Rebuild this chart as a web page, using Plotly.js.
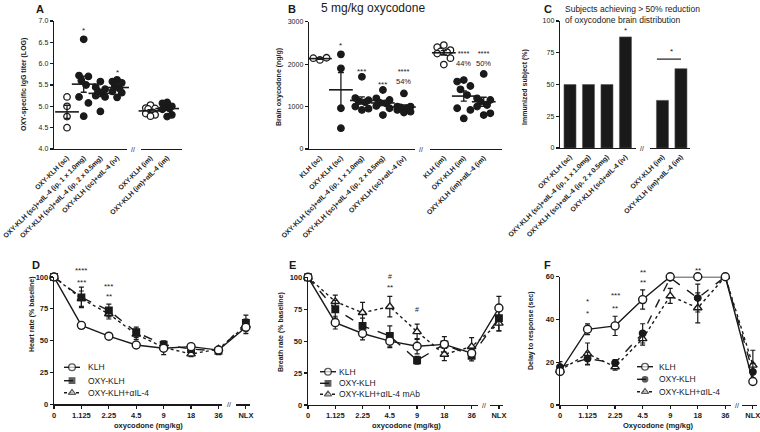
<!DOCTYPE html>
<html><head><meta charset="utf-8">
<script src="https://cdn.plot.ly/plotly-3.0.1.min.js"></script>
<style>html,body{margin:0;padding:0;background:#fff}#chart{width:760px;height:432px}</style>
</head><body><div id="chart"></div>
<script>
// ---------- DATA ----------
// Panel A: OXY-specific IgG titer (LOG)
const groupsA = ["OXY-KLH (sc)", "OXY-KLH (sc)+αIL-4 (ip, 1 x 1.0mg)", "OXY-KLH (sc)+αIL-4 (ip, 2 x 0.5mg)", "OXY-KLH (sc)+αIL-4 (iv)", "OXY-KLH (im)", "OXY-KLH (im)+αIL-4 (im)"];
const titerSc = [5.22, 5.0, 4.76, 4.5];
const titerScIp1 = [6.57, 5.72, 5.7, 5.6, 5.5, 5.22, 5.08, 4.77];
const titerScIp2 = [5.58, 5.45, 5.4, 5.35, 5.3, 5.25, 5.22, 4.88];
const titerScIv = [5.62, 5.58, 5.55, 5.48, 5.42, 5.35, 5.32, 5.21];
const titerIm = [5.03, 4.96, 4.95, 4.94, 4.86, 4.83, 4.8, 4.77];
const titerImIl4 = [5.09, 5.07, 5.0, 4.98, 4.95, 4.93, 4.8, 4.76];

// Panel B: brain oxycodone (ng/g)
const groupsB = ["KLH (sc)", "OXY-KLH (sc)", "OXY-KLH (sc)+αIL-4 (ip, 1 x 1.0mg)", "OXY-KLH (sc)+αIL-4 (ip, 2 x 0.5mg)", "OXY-KLH (sc)+αIL-4 (iv)", "KLH (im)", "OXY-KLH (im)", "OXY-KLH (im)+αIL-4 (im)"];
const brainKlhSc = [2140, 2100, 2150];
const brainOxySc = [2230, 1900, 960, 490];
const brainScIp1 = [1700, 1200, 1150, 1130, 1100, 1000, 950, 920];
const brainScIp2 = [1390, 1195, 1155, 1090, 1075, 1015, 960, 800];
const brainScIv = [1310, 1000, 1000, 980, 960, 920, 880, 860];
const brainKlhIm = [2450, 2400, 2330, 2300, 2280, 2250, 2140, 1990];
const brainOxyIm = [1625, 1590, 1485, 1405, 1270, 960, 920, 720];
const brainImIl4 = [1770, 1195, 1155, 1115, 1035, 1000, 840, 800];

// Panel C: % immunized subjects achieving > 50% reduction
const groupsC = groupsA;
const pctC = [50, 50, 50, 87.5, 37.5, 62.5];

// Panels D-F: dose response
const doses = ["0", "1.125", "2.25", "4.5", "9", "18", "36", "NLX"];
const hrKLH = [100, 62, 53.5, 46.6, 44, 45.3, 42.6, 60.5];
const hrKLHErr = [0, 2, 1.5, 2, 5, 2, 2, 5];
const hrOXY = [100, 84, 73.7, 56.6, 46.8, 43.4, 42, 64];
const hrOXYErr = [0, 8, 5, 4, 3, 2, 3, 6];
const hrIL4 = [100, 83, 71, 55, 44.7, 39.5, 43.4, 62];
const hrIL4Err = [0, 6, 4, 4, 3, 2, 2, 5];

const brKLH = [100, 64.5, 56, 50, 46, 47.5, 40.5, 76];
const brKLHErr = [0, 5, 5, 5, 6, 3, 4, 9];
const brOXY = [100, 75, 62, 54, 35, 47.5, 38.6, 68];
const brOXYErr = [0, 7, 6, 8, 3, 6, 4, 10];
const brIL4 = [100, 81, 72.3, 77, 57.4, 39.7, 45.7, 64];
const brIL4Err = [0, 5, 8, 8, 6, 5, 7, 6];

const dlKLH = [15.7, 35.4, 37, 49.3, 60, 60, 60, 11];
const dlKLHErr = [1.5, 2.5, 4.5, 4.5, 0, 0, 0, 1.5];
const dlOXY = [17.8, 21.7, 19.7, 33.5, 59.5, 50, 60, 15.5];
const dlOXYErr = [2.5, 3, 1.5, 4.5, 0, 6.5, 0, 4];
const dlIL4 = [16.2, 24, 17.8, 31, 51, 45.4, 60, 18.6];
const dlIL4Err = [1.5, 5, 1.5, 3, 3.5, 7, 0, 7];

// ---------- STYLE / LAYOUT HELPERS ----------
const FONT = 'Liberation Sans, Arial, sans-serif';
const INK = '#1a1a1a';
const W = 760, H = 432;
const px = v => v / W, py = v => 1 - v / H;
const traces = [];
const shapes = [];
const annotations = [];
const D = s => doses.indexOf(s);
const YR = { y: [4, 7], y2: [0, 3000], y3: [0, 100], y4: [0, 100], y5: [0, 100], y6: [0, 60] };

function mean(a) { return a.reduce((s, v) => s + v, 0) / a.length; }
function sem(a) { const m = mean(a); return Math.sqrt(a.reduce((s, v) => s + (v - m) * (v - m), 0) / (a.length - 1)) / Math.sqrt(a.length); }
function spreadFor(n) {
  if (n === 3) return [-0.7, 0, 0.7];
  if (n === 4) return [0, 0, 0, 0];
  return [0, -0.7, 0.7, -0.35, 0.35, -0.7, 0.7, 0];
}
function dotGroup(vals, pos, open, xa, ya, width) {
  const sp = spreadFor(vals.length);
  traces.push({
    type: 'scatter', mode: 'markers', xaxis: xa, yaxis: ya, showlegend: false, cliponaxis: false,
    x: vals.map((v, i) => pos + sp[i] * width), y: vals,
    marker: { symbol: 'circle', size: 6.5, color: open ? '#fff' : INK, line: { color: INK, width: 1.3 } }
  });
  traces.push({
    type: 'scatter', mode: 'markers', xaxis: xa, yaxis: ya, showlegend: false, cliponaxis: false,
    x: [pos], y: [mean(vals)],
    marker: { symbol: 'line-ew-open', size: 17, color: INK, line: { color: INK, width: 1.6 } },
    error_y: { type: 'data', array: [sem(vals)], width: 3, thickness: 1.3, color: INK }
  });
}
// axis break: white gap over the axis line plus a "//" mark (pixel positions, decoration only)
function breakMark(gx0, gx1, markX, axisY) {
  shapes.push({ type: 'rect', xref: 'paper', yref: 'paper', x0: px(gx0), x1: px(gx1), y0: py(axisY + 3), y1: py(axisY - 3),
    fillcolor: '#fff', line: { width: 0 }, layer: 'above' });
  annotations.push({ xref: 'paper', yref: 'paper', x: px(markX), y: py(axisY), text: '//', showarrow: false,
    font: { family: FONT, size: 7, color: INK }, yanchor: 'middle', xanchor: 'center' });
}
// significance marks, placed in axis-domain units so that marks above the range stay visible
function note(xa, ya, x, y, text, size, shift) {
  const r = YR[ya];
  annotations.push({ xref: xa, yref: ya + ' domain', x, y: (y - r[0]) / (r[1] - r[0]), text, showarrow: false, xanchor: 'center', yanchor: 'middle',
    yshift: shift === undefined ? -3 : shift, font: { family: FONT, size: size || 8, color: INK } });
}
function paperText(x, y, text, size, extra) {
  annotations.push(Object.assign({ xref: 'paper', yref: 'paper', x: px(x), y: py(y), text, showarrow: false,
    xanchor: 'center', yanchor: 'middle', font: { family: FONT, size: size, color: INK } }, extra || {}));
}

// ---------- PANEL A ----------
const posA = [0, 1, 2, 3, 5, 6];
[titerSc, titerScIp1, titerScIp2, titerScIv, titerIm, titerImIl4].forEach((g, i) =>
  dotGroup(g, posA[i], i === 0 || i === 4, 'x', 'y', 0.4));
breakMark(127, 141, 133, 149);
note('x', 'y', 1, 6.84, '*', 8);
note('x', 'y', 3, 5.87, '*', 8);

// ---------- PANEL B ----------
const posB = [0, 1, 2, 3, 4, 5.9, 6.85, 7.8];
[brainKlhSc, brainOxySc, brainScIp1, brainScIp2, brainScIv, brainKlhIm, brainOxyIm, brainImIl4].forEach((g, i) =>
  dotGroup(g, posB[i], i === 0 || i === 5, 'x2', 'y2', 0.45));
breakMark(415, 430, 421, 149);
note('x2', 'y2', 1, 2510, '*', 8);
note('x2', 'y2', 2, 1900, '***', 8);
note('x2', 'y2', 3, 1590, '***', 8);
note('x2', 'y2', 4, 1730, '****<br>54%', 7.5, -1);
note('x2', 'y2', 6.85, 2160, '****<br>44%', 7.5, -1);
note('x2', 'y2', 7.8, 2160, '****<br>50%', 7.5, -1);

// ---------- PANEL C ----------
const posC = [0, 1, 2, 3, 5, 6];
traces.push({ type: 'bar', xaxis: 'x3', yaxis: 'y3', showlegend: false, x: posC, y: pctC, width: 0.65,
  marker: { color: INK, line: { color: '#555', width: 0.6 } } });
breakMark(636, 650, 642, 148);
note('x3', 'y3', 3, 95, '*', 8);
note('x3', 'y3', 5.5, 78, '*', 8);
shapes.push({ type: 'line', xref: 'x3', yref: 'y3', x0: 4.7, x1: 6.0, y0: 70, y1: 70, line: { color: INK, width: 1.2 } });

// ---------- PANELS D, E, F ----------
function series(xa, ya, name, y, err, style) {
  traces.push({
    type: 'scatter', mode: 'lines+markers', xaxis: xa, yaxis: ya, showlegend: false, name, x: doses, y, cliponaxis: false,
    line: { color: INK, width: 1.4, dash: style.dash },
    marker: { symbol: style.symbol, size: style.size, color: style.fill, line: { color: INK, width: 1.4 } },
    error_y: { type: 'data', array: err, width: 2.5, thickness: 1.2, color: INK }
  });
}
const sKLH = { dash: 'solid', symbol: 'circle', size: 8, fill: '#fff' };
const sOXY = { dash: 'dash', symbol: 'square', size: 6.5, fill: INK };
const sIL4 = { dash: 'dot', symbol: 'triangle-up', size: 7.5, fill: '#fff' };
const sOXYc = { dash: 'dash', symbol: 'circle', size: 6.5, fill: INK };

// drawing order: αIL-4 group first, KLH last (on top)
series('x4', 'y4', 'OXY-KLH+αIL-4', hrIL4, hrIL4Err, sIL4);
series('x4', 'y4', 'OXY-KLH', hrOXY, hrOXYErr, sOXY);
series('x4', 'y4', 'KLH', hrKLH, hrKLHErr, sKLH);

series('x5', 'y5', 'OXY-KLH+αIL-4 mAb', brIL4, brIL4Err, sIL4);
series('x5', 'y5', 'OXY-KLH', brOXY, brOXYErr, sOXY);
series('x5', 'y5', 'KLH', brKLH, brKLHErr, sKLH);

series('x6', 'y6', 'OXY-KLH+αIL-4', dlIL4, dlIL4Err, sIL4);
series('x6', 'y6', 'OXY-KLH', dlOXY, dlOXYErr, sOXYc);
series('x6', 'y6', 'KLH', dlKLH, dlKLHErr, sKLH);

breakMark(222, 236, 229, 404.3);
breakMark(478, 490, 484, 405);
breakMark(731, 742, 737, 405);

note('x4', 'y4', D('1.125'), 107.8, '****', 8);
note('x4', 'y4', D('1.125'), 97.9, '***', 8);
note('x4', 'y4', D('2.25'), 94.8, '***', 8);
note('x4', 'y4', D('2.25'), 87.4, '**', 8);
note('x5', 'y5', D('4.5'), 101, '#', 7, 0);
note('x5', 'y5', D('4.5'), 94.2, '**', 8);
note('x5', 'y5', D('9'), 74.4, '#', 7, 0);
note('x6', 'y6', D('1.125'), 50, '*', 8);
note('x6', 'y6', D('1.125'), 44.3, '*', 8);
note('x6', 'y6', D('2.25'), 52.4, '***', 8);
note('x6', 'y6', D('2.25'), 46.6, '**', 8);
note('x6', 'y6', D('4.5'), 63.6, '**', 8);
note('x6', 'y6', D('4.5'), 58.5, '**', 8);
note('x6', 'y6', D('18'), 64.2, '**', 8);

// ---------- LEGENDS (drawn by hand, pixel layout on an overlay axis) ----------
const legendMarks = { x: [], y: [], symbol: [], size: [], color: [] };
function legendBlock(symX, textX, rows, names, styles) {
  names.forEach((nm, i) => {
    const y = rows[i], st = styles[i];
    shapes.push({ type: 'line', xref: 'paper', yref: 'paper', x0: px(symX - 8), x1: px(symX + 8), y0: py(y), y1: py(y),
      layer: 'below', line: { color: INK, width: 1.4, dash: st.dash } });
    legendMarks.x.push(symX); legendMarks.y.push(y); legendMarks.symbol.push(st.symbol);
    legendMarks.size.push(st.size * 0.85); legendMarks.color.push(st.fill);
    annotations.push({ xref: 'paper', yref: 'paper', x: px(textX), y: py(y), text: nm, showarrow: false, xanchor: 'left', yanchor: 'middle',
      font: { family: FONT, size: 8.5, color: INK } });
  });
}
legendBlock(72, 86, [367.3, 380.7, 392.7], ['KLH', 'OXY-KLH', 'OXY-KLH+αIL-4'], [sKLH, sOXY, sIL4]);
legendBlock(328, 337, [371.7, 383.3, 394.3], ['KLH', 'OXY-KLH', 'OXY-KLH+αIL-4 mAb'], [sKLH, sOXY, sIL4]);
legendBlock(645, 657, [366.7, 379.3, 391.7], ['KLH', 'OXY-KLH', 'OXY-KLH+αIL-4'], [sKLH, sOXYc, sIL4]);
traces.push({ type: 'scatter', mode: 'markers', xaxis: 'x7', yaxis: 'y7', showlegend: false, cliponaxis: false,
  x: legendMarks.x, y: legendMarks.y,
  marker: { symbol: legendMarks.symbol, size: legendMarks.size, color: legendMarks.color, line: { color: INK, width: 1.3 } } });

// ---------- TEXT ----------
paperText(40, 9, '<b>A</b>', 11);
paperText(292, 9, '<b>B</b>', 11);
paperText(548, 9, '<b>C</b>', 11);
paperText(36, 265, '<b>D</b>', 11);
paperText(292, 265, '<b>E</b>', 11);
paperText(547, 265, '<b>F</b>', 11);
paperText(373, 8, '5 mg/kg oxycodone', 12);
paperText(563, 2, 'Subjects achieving > 50% reduction<br>of oxycodone brain distribution', 8.5, { xanchor: 'left', yanchor: 'top', align: 'left' });
paperText(24, 85, '<b>OXY-specific IgG titer (LOG)</b>', 7, { textangle: -90 });
paperText(279, 87, '<b>Brain oxycodone (ng/g)</b>', 7, { textangle: -90 });
paperText(525, 87, '<b>Immunized subject (%)</b>', 7, { textangle: -90 });
paperText(32, 315, '<b>Heart rate (% baseline)</b>', 7, { textangle: -90 });
paperText(281, 332, '<b>Breath rate (% baseline)</b>', 7, { textangle: -90 });
paperText(531, 331, '<b>Delay to response (sec)</b>', 7, { textangle: -90 });
paperText(148, 425, '<b>oxycodone (mg/kg)</b>', 7.5);
paperText(406, 425, '<b>oxycodone (mg/kg)</b>', 7.5);
paperText(658, 425, '<b>Oxycodone (mg/kg)</b>', 7.5);

// ---------- AXES ----------
function yAx(top, bottom, range, dtick, anchor, extra) {
  const vals = [];
  for (let v = range[0]; v <= range[1] + 1e-9; v += dtick) vals.push(+v.toFixed(6));
  return Object.assign({ domain: [py(bottom), py(top)], range, tickmode: 'array', tickvals: vals, anchor, showline: true, linecolor: INK, linewidth: 1.3,
    ticks: 'outside', ticklen: 3, tickwidth: 1.2, tickcolor: INK, showgrid: false, zeroline: false, fixedrange: true,
    tickfont: { family: FONT, size: 7, color: INK } }, extra || {});
}
function xCat(left, right, range, pos, labels, anchor) {
  return { domain: [px(left), px(right)], range, anchor, tickvals: pos, ticktext: labels, tickangle: -45, ticks: '',
    showline: true, linecolor: INK, linewidth: 1.3, showgrid: false, zeroline: false, fixedrange: true, ticklabelstandoff: 1,
    tickfont: { family: FONT, size: 6.9, color: INK, weight: 'bold' } };
}
const RMAX = 7.15;
function xDose(left, right, anchor) {
  return { domain: [px(left), px(right)], type: 'category', range: [0, RMAX], anchor, showline: true, linecolor: INK, linewidth: 1.3,
    showgrid: false, zeroline: false, ticks: 'outside', ticklen: 3, tickwidth: 1.2, tickcolor: INK, fixedrange: true,
    tickfont: { family: FONT, size: 7.5, color: INK, weight: 'bold' } };
}
const boldTicks = { tickfont: { family: FONT, size: 7.5, color: INK, weight: 'bold' } };

const layout = {
  width: W, height: H, margin: { l: 0, r: 0, t: 0, b: 0 }, paper_bgcolor: '#fff', plot_bgcolor: 'rgba(0,0,0,0)',
  showlegend: false, font: { family: FONT, color: INK },
  xaxis: xCat(54, 182, [-0.78, 6.89], posA, groupsA, 'y'),
  yaxis: yAx(21, 149, YR.y, 0.5, 'x', { tickformat: '.1f' }),
  xaxis2: xCat(309, 502, [-0.52, 8.67], posB, groupsB, 'y2'),
  yaxis2: yAx(21.7, 149, YR.y2, 1000, 'x2'),
  xaxis3: xCat(560, 690, [-0.54, 6.49], posC, groupsC, 'y3'),
  yaxis3: yAx(21, 148, YR.y3, 25, 'x3'),
  xaxis4: xDose(54, 250, 'y4'),
  yaxis4: yAx(277, 404.3, YR.y4, 25, 'x4', boldTicks),
  xaxis5: xDose(308, 503, 'y5'),
  yaxis5: yAx(277.3, 405, YR.y5, 25, 'x5', boldTicks),
  xaxis6: xDose(560, 757, 'y6'),
  yaxis6: yAx(276.7, 405, YR.y6, 20, 'x6', boldTicks),
  xaxis7: { domain: [0, 1], range: [0, W], visible: false, fixedrange: true, anchor: 'y7' },
  yaxis7: { domain: [0, 1], range: [H, 0], visible: false, fixedrange: true, anchor: 'x7' },
  shapes, annotations
};
Plotly.newPlot('chart', traces, layout, { displayModeBar: false, staticPlot: true });
</script>
</body></html>
